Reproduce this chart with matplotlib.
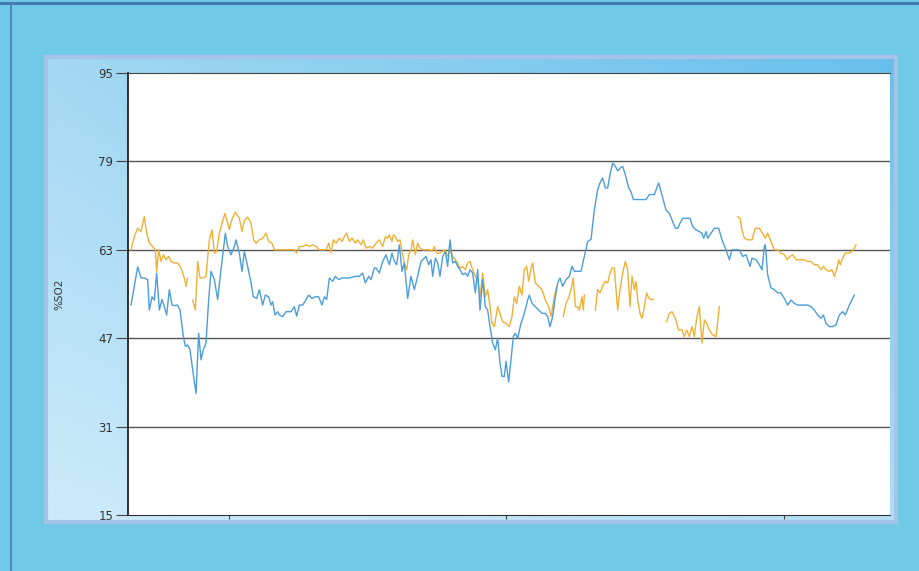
import numpy as np
import matplotlib
matplotlib.use("Agg")
import matplotlib.pyplot as plt
from matplotlib.patches import Rectangle
from matplotlib.colors import to_rgb

nan = np.nan

# time stamps (arbitrary sample units) and %SO2 readings, NaN = no signal
blue_t = [15, 35, 45, 55, 65, 70, 78, 85, 92, 100, 108, 115, 122, 130, 138, 148, 155, 162,
          172, 178, 185, 192, 200, 210, 218, 225, 232, 240, 248, 255, 265, 275, 285, 298,
          305, 315, 325, 330, 340, 348, 355, 365, 375, 382, 392, 400, 410, 418, 428, 435,
          440, 447, 455,
          460, 470, 480, 495, 505, 512, 520, 530, 540, 548, 558, 568, 578, 588, 595, 602,
          610, 620, 628, 638, 648, 658, 670, 688, 700, 710, 718, 728, 735, 745, 750, 760,
          770, 780, 790, 798, 805, 812, 820, 828, 835, 845, 855, 865, 875, 885, 895,
          900, 908, 915, 920, 928, 935, 942, 950, 958, 965, 972, 980, 988, 995, 1002, 1010,
          1018, 1025, 1032, 1040, 1048, 1055, 1062, 1070, 1078, 1085, 1092, 1100, 1108,
          1115, 1122, 1128, 1135, 1140, 1148, 1155, 1162, 1168, 1175, 1185, 1195, 1205,
          1210, 1218, 1228, 1238, 1248, 1258, 1265, 1272, 1280, 1288, 1295, 1302, 1310,
          1320, 1330, 1338, 1345,
          1350, 1365, 1375, 1385, 1395, 1405, 1415, 1422, 1430, 1438, 1445, 1452, 1460,
          1468, 1475, 1483, 1490, 1498, 1508, 1515, 1522, 1532, 1545, 1560, 1570, 1585,
          1598, 1610, 1620, 1630, 1640, 1648, 1655, 1662, 1670, 1682, 1692, 1700, 1710,
          1720, 1728, 1733, 1740, 1745, 1755, 1765, 1778, 1788, 1800,
          1810, 1818, 1840, 1850, 1860, 1872, 1878, 1890, 1900, 1908, 1915, 1918, 1925,
          1935, 1945, 1955, 1965, 1975, 1985, 1995, 2005, 2015, 2030, 2045, 2055, 2065,
          2075, 2085, 2092, 2100, 2110, 2120, 2130, 2140, 2150, 2158, 2170, 2185]
blue_v = [53.0, 59.9, 57.9, 57.9, 57.6, 52.1, 54.5, 53.9, 58.8, 52.1, 54.0, 52.7, 51.2, 55.8,
          53.0, 52.9, 53.0, 52.1, 47.3, 45.5, 45.8, 44.9, 41.3, 37.0, 47.9, 43.1, 44.9, 46.1,
          54.0, 59.1, 57.6, 54.0, 59.4, 66.0, 63.6, 62.1, 63.6, 64.8, 62.4, 59.1, 62.7, 60.0,
          57.0, 54.5, 54.2, 55.8, 53.0, 54.8, 54.5, 53.0, 53.6, 51.2, 51.8,
          51.2, 50.9, 51.8, 51.8, 52.7, 51.0, 53.0, 53.0, 54.0, 54.8, 54.2, 54.5, 54.5, 53.0,
          54.5, 54.0, 57.9, 57.3, 58.2, 57.6, 57.9, 57.9, 57.9, 58.2, 58.2, 58.8, 57.0, 58.2,
          57.6, 59.7, 59.7, 58.8, 60.9, 62.1, 60.3, 62.4, 60.9, 60.3, 63.9, 59.1, 60.6, 54.2,
          58.2, 55.8, 58.2, 60.9, 61.5,
          61.8, 60.3, 61.2, 58.2, 61.5, 60.6, 58.2, 61.8, 62.7, 60.0, 64.8, 60.6, 60.9, 60.0,
          59.4, 58.5, 58.8, 58.2, 59.4, 58.8, 55.2, 59.4, 52.1, 57.6, 52.7, 52.1, 49.1, 46.1,
          44.9, 47.0, 42.5, 40.1, 40.1, 42.8, 39.1, 43.1, 47.3, 47.9, 47.0, 49.7, 51.5, 53.9,
          54.8, 53.3, 52.7, 52.1, 51.5, 51.5, 50.9, 49.1, 50.9, 54.5, 57.0, 57.9, 56.4, 57.6,
          58.2, 60.0, 59.1,
          59.1, 59.1, 61.8, 64.5, 64.9, 70.2, 73.9, 75.1, 76.0, 74.2, 74.2, 76.6, 78.7, 78.1,
          77.3, 77.8, 78.1, 76.6, 74.2, 73.5, 72.1, 72.1, 72.1, 72.1, 73.0, 73.0, 75.1, 72.4,
          70.2, 69.6, 68.1, 66.9, 66.9, 67.8, 68.7, 68.7, 68.7, 67.2, 66.6, 66.3, 66.0, 65.1,
          66.3, 65.1, 66.0, 66.9, 66.9, 64.8, 63.0,
          61.2, 63.0, 63.0, 61.8, 62.1, 60.0, 61.5, 61.2, 60.3, 59.4, 63.6, 63.9, 58.5, 56.1,
          55.8, 55.2, 55.2, 54.2, 53.0, 53.9, 53.3, 53.0, 53.0, 53.0, 52.7, 52.1, 51.2, 50.6,
          51.2, 49.7, 49.1, 49.1, 49.4, 51.2, 51.8, 51.2, 53.0, 54.8]

orange_t = [15, 25, 35, 45, 55, 62, 70, 80, 88, 92, 98, 105, 112, 120, 128, 135, 145, 155,
            165, 175, 180, 185, 192, 200, 208, 215, 222, 232, 240, 250, 258, 265, 272, 280,
            290, 297, 303, 310, 318, 328, 340, 348, 355, 365, 375, 383, 390, 400, 410, 420,
            428, 438, 445, 455,
            505, 512, 520, 530, 540, 550, 560, 570, 580, 600, 608, 615, 622, 630, 640, 648,
            655, 662, 670, 678, 688, 695, 705, 712, 720, 730, 740, 750, 760, 770, 778, 785,
            790, 798, 802, 808, 815, 822, 828, 835, 842, 848, 855, 860, 868, 875, 882, 890,
            900, 910, 918, 925, 932, 940, 950, 958, 965, 972, 980, 988, 995, 1002, 1010,
            1018, 1025, 1032, 1040, 1048, 1055, 1062, 1070, 1078, 1085, 1092, 1098, 1105,
            1115, 1122, 1130, 1140, 1150, 1158, 1165, 1172, 1180, 1188, 1195, 1202, 1208,
            1215, 1220, 1228, 1238, 1248, 1258, 1268, 1275, 1285, 1292, 1302,
            1312, 1320, 1328, 1335, 1342, 1348, 1355, 1360, 1368, 1372, 1375, 1392,
            1408, 1415, 1422, 1430, 1438, 1445, 1452, 1458, 1465, 1470, 1475, 1482, 1490,
            1498, 1505, 1512, 1518, 1525, 1530, 1535, 1542, 1548, 1555, 1562, 1568, 1575,
            1582, 1600,
            1622, 1630, 1638, 1648, 1658, 1668, 1675, 1682, 1690, 1698, 1705, 1712, 1720,
            1728, 1735, 1742, 1750, 1760, 1770, 1780, 1808,
            1835, 1842, 1848, 1855, 1865, 1878, 1888, 1900, 1910, 1918, 1925, 1933, 1945,
            1955, 1965, 1975, 1983, 1992, 2000, 2010, 2022, 2035, 2045, 2055, 2065, 2075,
            2085, 2092, 2100, 2110, 2118, 2125, 2132, 2138, 2143, 2150, 2158, 2168, 2178,
            2185, 2190]
orange_v = [63.0, 65.4, 66.9, 66.3, 69.0, 66.0, 64.2, 63.6, 63.0, 59.1, 63.0, 60.9, 62.1,
            61.2, 61.8, 60.9, 60.6, 60.6, 59.7, 57.9, 56.4, 57.9, nan, 53.9, 52.1, 60.9,
            57.9, 57.9, 58.2, 64.8, 66.6, 62.4, 62.7, 66.0, 68.2, 69.6, 68.2, 66.7, 68.6,
            69.8, 68.7, 66.3, 68.3, 68.9, 67.8, 64.8, 64.2, 64.8, 65.1, 66.0, 64.5, 64.2,
            63.0, 63.0,
            63.0, 62.4, 63.6, 63.6, 63.9, 63.6, 63.9, 63.6, 63.0, 63.0, 64.2, 62.4, 64.8,
            64.2, 65.1, 64.5, 65.4, 66.0, 64.5, 65.1, 64.2, 64.8, 63.9, 64.8, 63.3, 63.6,
            63.3, 64.2, 64.8, 63.6, 65.4, 65.1, 65.7, 64.5, 65.7, 65.4, 64.5, 64.8, 62.7,
            60.6, 59.4, 62.1, 63.0, 64.8, 62.1, 64.2, 63.3, 63.0,
            63.0, 63.0, 62.7, 63.6, 62.4, 62.4, 62.7, 63.0, 61.8, 63.0, 61.8, 61.2, 60.6,
            59.7, 60.0, 59.4, 60.6, 60.9, 59.4, 58.2, 57.6, 54.5, 58.8, 54.5, 55.8, 52.7,
            49.7, 49.1, 52.7, 51.5, 50.0, 49.7, 49.1, 50.9, 54.5, 53.3, 56.4, 54.8, 59.4,
            60.0, 57.3, 59.7, 60.6, 57.0, 56.4, 55.8, 53.9, 52.7, 50.9, 54.5, 56.4, nan,
            50.9, 53.3, 54.3, 55.8, 57.9, 52.7, 52.7, 52.1, 54.5, 52.1, 54.8, nan,
            52.1, 55.8, 55.2, 56.4, 57.3, 57.0, 58.8, 59.7, 59.7, 55.8, 52.1, 55.8, 58.8,
            60.9, 59.4, 52.7, 58.2, 55.8, 57.3, 54.0, 51.5, 50.6, 52.7, 55.2, 54.3, 54.0,
            54.0, nan,
            50.0, 51.5, 51.8, 50.6, 48.5, 48.5, 47.3, 48.5, 47.3, 49.1, 47.3, 50.6, 52.7,
            46.1, 50.3, 49.7, 48.5, 47.6, 47.3, 52.7, nan,
            69.0, 68.7, 66.6, 65.1, 64.8, 64.8, 66.9, 66.9, 66.0, 65.1, 66.0, 64.8, 63.0,
            63.0, 62.4, 62.1, 61.2, 61.8, 62.1, 61.2, 61.2, 61.2, 60.9, 60.9, 60.3, 60.3,
            59.4, 60.0, 59.4, 59.1, 59.4, 58.2, 59.4, 61.2, 60.3, 61.5, 62.4, 62.4, 62.7,
            63.3, 63.9]

y_ticks = [15, 31, 47, 63, 79, 95]
x_ticks = [308, 1141, 1974]

W, H = 919, 571
fig = plt.figure(figsize=(W / 100, H / 100), dpi=100, facecolor="#6fc9e7")

# window frame lines
fig.add_artist(Rectangle((0, 1 - 5 / H), 1, 3 / H, transform=fig.transFigure,
                         facecolor="#4479b3", edgecolor="none"))
fig.add_artist(Rectangle((10 / W, 0), 2 / W, 1 - 3 / H, transform=fig.transFigure,
                         facecolor="#4f86bd", edgecolor="none"))

# gradient panel behind the plot
px0, px1, py0, py1 = 46, 896, 57, 522
bg = fig.add_axes([px0 / W, 1 - py1 / H, (px1 - px0) / W, (py1 - py0) / H])
tl, tr = np.array(to_rgb("#a3d8f2")), np.array(to_rgb("#66c0ec"))
bl, br = np.array(to_rgb("#cdebfa")), np.array(to_rgb("#b3def6"))
u = np.linspace(0, 1, 200)[None, :, None]
v = np.linspace(0, 1, 120)[:, None, None]
grad = (1 - v) * ((1 - u) * tl + u * tr) + v * ((1 - u) * bl + u * br)
bg.imshow(grad, aspect="auto", extent=[0, 1, 0, 1], interpolation="bilinear")
bg.set_axis_off()
fig.add_artist(Rectangle((px0 / W, 1 - py1 / H), (px1 - px0) / W, (py1 - py0) / H,
                         transform=fig.transFigure, facecolor="none",
                         edgecolor="#a6c4ea", linewidth=3))

ax = fig.add_axes([128 / W, 1 - 515 / H, 762 / W, 442 / H])
ax.set_facecolor("white")

for g in [31, 47, 63, 79]:
    ax.axhline(g, color="#555555", lw=1, zorder=1)

ax.plot(orange_t, orange_v, color="#f0b135", lw=1.0, zorder=2)
ax.plot(blue_t, blue_v, color="#4c9ddb", lw=1.0, zorder=3)

ax.set_xlim(6, 2292)
ax.set_ylim(15, 95)
ax.set_yticks(y_ticks)
ax.set_xticks(x_ticks)
ax.set_xticklabels([])
ax.tick_params(axis="y", direction="out", length=8.5, width=0.8, pad=2,
               labelsize=8.5, labelcolor="#333333", color="#444444")
ax.tick_params(axis="x", direction="out", length=3, width=0.8, color="#444444")

ax.spines["left"].set_color("#111111")
ax.spines["left"].set_linewidth(1.2)
ax.spines["bottom"].set_color("#333333")
ax.spines["top"].set_color("#444444")
ax.spines["right"].set_visible(False)

ax.set_ylabel("%SO2", fontsize=7.5, color="#333333")
ax.yaxis.set_label_coords(-0.083, 0.5)

fig.savefig("out.png", dpi=100, facecolor=fig.get_facecolor())
